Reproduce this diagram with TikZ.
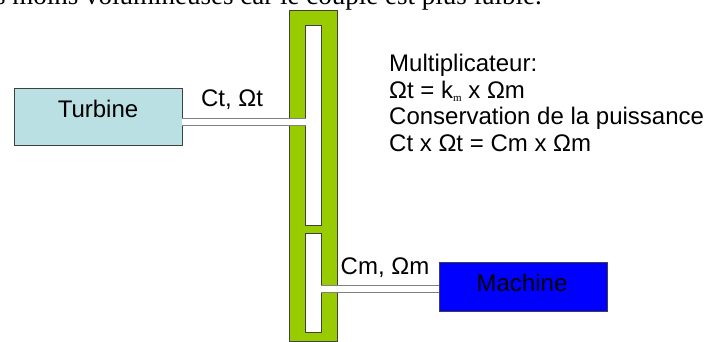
\documentclass[tikz,border=0pt]{standalone}
\usepackage{fontspec}
\setmainfont{Liberation Sans}
\newfontfamily\serifpart{Liberation Serif}
\usetikzlibrary{positioning}
\definecolor{gearbar}{HTML}{99CC00}
\definecolor{turbinefill}{HTML}{BBE0E3}
\definecolor{machinefill}{HTML}{0000FF}
\definecolor{edgegray}{HTML}{404040}
\tikzset{
	box/.style={
		rectangle,
		draw=edgegray,
		line width=0.8pt,
		inner sep=0pt,
		outer sep=0pt
	},
	slot/.style={box, fill=white, minimum width=15.6pt},
	shaft/.style={draw=gray, line width=1pt, double=white, double distance=6pt},
	lbl/.style={inner sep=0pt, font=\fontsize{24}{26.5}\selectfont}
}
\begin{document}
\begin{tikzpicture}[x=1pt, y=-1pt]
	\clip (0,0) rectangle (709,341);
	\fill[white] (0,0) rectangle (709,341);
	\node[anchor=base west, inner sep=0pt, font=\serifpart\fontsize{27}{29}\selectfont] (toptext) at (-5,4.8) {s moins volumineuses car le couple est plus faible.};

	% multiplicateur
	\node[box, fill=gearbar, minimum width=48pt, minimum height=331pt] (bar) at (313,175.5) {};
	\node[slot, minimum height=199.6pt] (slotup) at (313.5,125.5) {};
	\node[slot, minimum height=99pt] (slotdown) at (313.5,282.8) {};

	% turbine et machine
	\node[box, fill=turbinefill, minimum width=168pt, minimum height=56.7pt] (turbine) at (98,116.7) {};
	\node[box, fill=machinefill, minimum width=168pt, minimum height=48.3pt] (machine) at (523,286.8) {};
	\node[lbl] (tname) at ([yshift=7.5pt]turbine.center) {Turbine};
	\node[lbl] (mname) at ([xshift=-1pt, yshift=3.5pt]machine.center) {Machine};

	% arbres
	\coordinate (tshaft) at ([yshift=-5pt]turbine.east);
	\coordinate (mshaft) at ([yshift=-1.8pt]machine.west);
	\draw[shaft] (tshaft) -- (tshaft -| slotup.west);
	\draw[shaft] (slotdown.east |- mshaft) -- (mshaft);

	\node[lbl] (tlabel) at (232,100) {Ct, Ωt};
	\node[lbl] (mlabel) at (385,268) {Cm, Ωm};

	\node[lbl, anchor=north west, align=left, font=\fontsize{24}{26.7}\selectfont] (notes) at (389,54) {Multiplicateur:\\
		Ωt = k{\serifpart\fontsize{11}{11}\selectfont\raisebox{-3pt}{m}} x Ωm\\
		Conservation de la puissance\\
		Ct x Ωt = Cm x Ωm};
\end{tikzpicture}
\end{document}
